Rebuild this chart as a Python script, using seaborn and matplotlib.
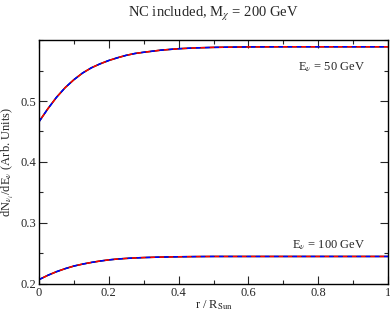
import numpy as np
import pandas as pd
import matplotlib
matplotlib.use("Agg")
import matplotlib.pyplot as plt
import seaborn as sns
from matplotlib.ticker import MultipleLocator

# radial position r / R_Sun
r = [0.0, 0.025, 0.05, 0.075, 0.1, 0.125, 0.15, 0.175, 0.2, 0.225, 0.25,
     0.275, 0.3, 0.35, 0.4, 0.45, 0.5, 0.6, 0.7, 0.8, 0.9, 1.0]

# E_nu = 50 GeV
flux_50 = [0.466, 0.487, 0.506, 0.522, 0.535, 0.546, 0.5545, 0.561, 0.5665,
           0.571, 0.575, 0.578, 0.580, 0.5835, 0.5858, 0.5872, 0.588, 0.5888,
           0.589, 0.589, 0.589, 0.589]

# E_nu = 100 GeV
flux_100 = [0.207, 0.214, 0.220, 0.225, 0.2293, 0.2325, 0.2352, 0.2375,
            0.2394, 0.2408, 0.2418, 0.2426, 0.2432, 0.2440, 0.2445, 0.2448,
            0.245, 0.245, 0.245, 0.245, 0.245, 0.245]

labels = ["E$_\\nu$ = 50 GeV", "E$_\\nu$ = 100 GeV"]

df = pd.DataFrame({"r": r * 2, "flux": flux_50 + flux_100,
                   "E": ["50"] * len(r) + ["100"] * len(r)})

sns.set_style("ticks")
plt.rcParams["font.family"] = ["Liberation Serif", "DejaVu Serif"]
plt.rcParams["mathtext.fontset"] = "stix"

fig = plt.figure(figsize=(3.9, 3.13), dpi=100)
ax = fig.add_axes([0.1, 0.093, 0.895, 0.779])

for e in ["50", "100"]:
    sub = df[df["E"] == e]
    sns.lineplot(data=sub, x="r", y="flux", ax=ax, color="black", lw=1.1,
                 estimator=None, sort=False)
    sns.lineplot(data=sub, x="r", y="flux", ax=ax, color="blue", lw=1.1,
                 estimator=None, sort=False, dashes=False, linestyle=(0, (3, 3)))
    sns.lineplot(data=sub, x="r", y="flux", ax=ax, color="red", lw=1.1,
                 estimator=None, sort=False, dashes=False, linestyle=(3, (3, 3)))

ax.set_xlim(0, 1)
ax.set_ylim(0.2, 0.6)
ax.xaxis.set_major_locator(MultipleLocator(0.2))
ax.xaxis.set_minor_locator(MultipleLocator(0.1))
ax.yaxis.set_major_locator(MultipleLocator(0.1))
ax.yaxis.set_minor_locator(MultipleLocator(0.05))
ax.set_xticks([0, 0.2, 0.4, 0.6, 0.8, 1.0])
ax.set_xticklabels(["0", "0.2", "0.4", "0.6", "0.8", "1"])
ax.set_yticks([0.2, 0.3, 0.4, 0.5])
ax.set_yticklabels(["0.2", "0.3", "0.4", "0.5"])
ax.tick_params(which="both", direction="in", top=True, right=True,
               labelsize=9, pad=2)
ax.tick_params(which="major", length=6, width=0.8)
ax.tick_params(which="minor", length=3, width=0.8)
for s in ax.spines.values():
    s.set_linewidth(1.0)
    s.set_color("black")

ax.set_xlabel("r / R$_{\\rm Sun}$", fontsize=9, labelpad=0)
ax.set_ylabel("dN$_{\\nu_i}$/dE$_\\nu$ (Arb. Units)", fontsize=9, labelpad=3)
ax.set_title("NC included, M$_\\chi$ = 200 GeV", fontsize=10.5, pad=17)

ax.text(0.935, 0.556, labels[0], fontsize=9, ha="right", va="center")
ax.text(0.935, 0.263, labels[1], fontsize=9, ha="right", va="center")

fig.savefig("out.png", dpi=100)
